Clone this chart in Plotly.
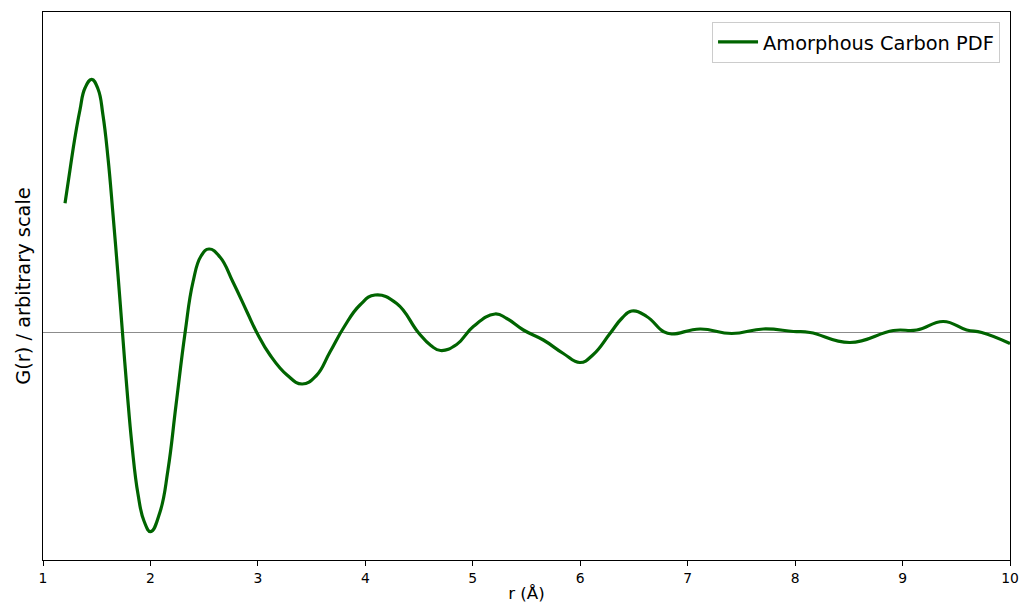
import plotly.graph_objects as go

# Values (arbitrary scale, 0 = baseline)
r_values = [1.205, 1.251, 1.298, 1.344, 1.391, 1.453, 1.512, 1.558, 1.605, 1.652,
            1.698, 1.740, 1.782, 1.828, 1.884, 1.940, 2.002, 2.089, 2.163, 2.238,
            2.322, 2.396, 2.471, 2.545, 2.647, 2.768, 2.899, 2.992, 3.113, 3.271,
            3.411, 3.541, 3.671, 3.802, 3.950, 4.090, 4.292, 4.493, 4.610, 4.700,
            4.850, 5.005, 5.207, 5.316, 5.471, 5.657, 5.843, 5.998, 6.122, 6.277,
            6.390, 6.479, 6.619, 6.773, 6.851, 7.115, 7.410, 7.704, 7.984, 8.139,
            8.511, 8.914, 9.132, 9.380, 9.597, 9.737, 10.0]
g_values = [129.2, 162.5, 195.5, 222.5, 244.5, 253.2, 243.5, 217.5, 174.5, 117.5,
            57.5, -0.5, -57.5, -112.5, -161.5, -188.5, -199.2, -179.5, -137.5, -72.5,
            -0.5, 50.5, 76.5, 83.5, 75.5, 50.5, 20.5, -0.5, -22.5, -42.5,
            -51.5, -43.5, -19.5, 5.5, 27.5, 37.5, 29, 0, -13, -18,
            -12, 6, 18.5, 14, 2.5, -7.5, -21, -30, -22, -1,
            14.5, 21.5, 16, 1, -1.5, 3.5, -1, 3.5, 1, 0,
            -10, 2, 2.5, 11, 2.5, 0, -11]
x_ticks = [1, 2, 3, 4, 5, 6, 7, 8, 9, 10]

fig = go.Figure()
fig.add_trace(go.Scatter(
    x=r_values, y=g_values, mode="lines",
    line=dict(color="#006400", width=3.2, shape="spline", smoothing=1.3),
    name="Amorphous Carbon PDF",
))

fig.update_layout(
    width=1024, height=609,
    margin=dict(l=43, r=14, t=12, b=49),
    paper_bgcolor="white", plot_bgcolor="white",
    font=dict(family="DejaVu Sans", color="black"),
    showlegend=True,
    legend=dict(x=0.9897, y=0.982, xanchor="right", yanchor="top",
                bgcolor="white", bordercolor="#cccccc", borderwidth=1,
                itemwidth=40,
                font=dict(size=19.4, family="DejaVu Sans")),
    xaxis=dict(range=[1, 10], tickvals=x_ticks, ticks="outside", ticklen=5,
               tickcolor="black", showline=True, linecolor="black", linewidth=1,
               mirror=True, showgrid=False, zeroline=False, automargin=False,
               tickfont=dict(size=13.9),
               title=dict(text="r (Å)", font=dict(size=16.7), standoff=2)),
    yaxis=dict(range=[-227.5, 320.5], showticklabels=False, ticks="",
               showline=True, linecolor="black", linewidth=1, mirror=True,
               showgrid=False, zeroline=True, zerolinecolor="#8c8c8c",
               zerolinewidth=1.2, automargin=False,
               title=dict(text="G(r) / arbitrary scale", font=dict(size=19.4),
                          standoff=6)),
)

fig.write_html("out.html")
